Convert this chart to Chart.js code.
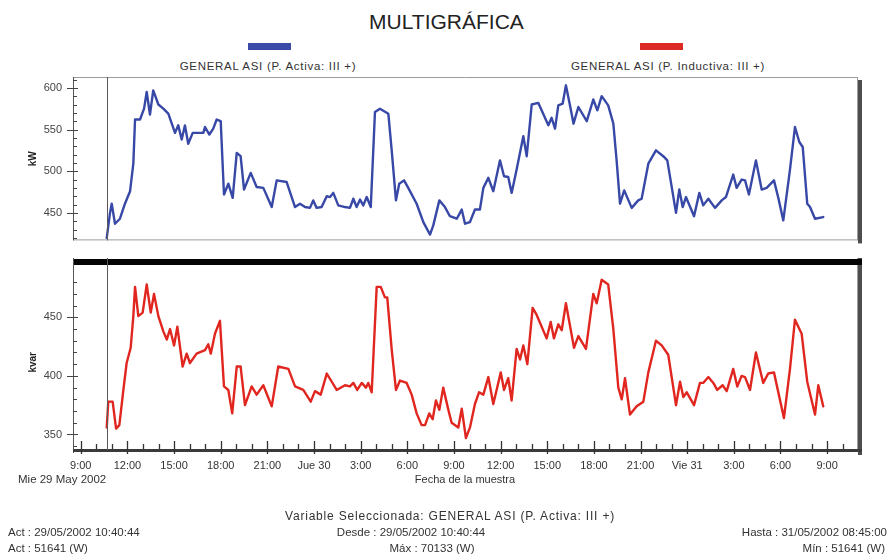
<!DOCTYPE html>
<html>
<head>
<meta charset="utf-8">
<script src="https://cdn.jsdelivr.net/npm/chart.js@4/dist/chart.umd.min.js"></script>
<style>
  html, body { margin: 0; padding: 0; background: #fff; }
  #wrap { position: relative; width: 889px; height: 557px; overflow: hidden; background: #fff; }
  canvas { position: absolute; left: 0; }
  #cA { top: 0; }
  #cB { top: 258px; }
  .txt { position: absolute; font-family: "Liberation Sans", Arial, sans-serif; color: #333; white-space: nowrap; line-height: 1; }
  .sw { position: absolute; height: 7px; width: 43px; }
</style>
</head>
<body>
<div id="wrap">
  <div class="txt" style="left:0;width:893px;top:11px;text-align:center;font-size:21px;color:#222;">MULTIGRÁFICA</div>

  <div class="sw" style="left:248px;top:43px;background:#3b4aa6;"></div>
  <div class="txt" style="left:158px;width:220px;top:61px;text-align:center;font-size:11.5px;letter-spacing:0.7px;">GENERAL ASI (P. Activa: III +)</div>
  <div class="sw" style="left:640px;top:43px;background:#dc2a24;"></div>
  <div class="txt" style="left:553px;width:230px;top:61px;text-align:center;font-size:11.5px;letter-spacing:0.7px;">GENERAL ASI (P. Inductiva: III +)</div>

  <canvas id="cA" width="889" height="258"></canvas>
  <canvas id="cB" width="889" height="299"></canvas>

  <div class="txt" style="left:18px;top:474px;font-size:11.5px;">Mie 29 May 2002</div>

  <div class="txt" style="left:0;width:900px;top:510px;text-align:center;font-size:12px;letter-spacing:0.8px;">Variable Seleccionada: GENERAL ASI (P. Activa: III +)</div>
  <div class="txt" style="left:8px;top:527px;font-size:11.5px;">Act : 29/05/2002 10:40:44</div>
  <div class="txt" style="left:8px;top:543px;font-size:11.5px;">Act : 51641 (W)</div>
  <div class="txt" style="left:311px;width:200px;top:527px;text-align:center;font-size:11.5px;">Desde : 29/05/2002 10:40:44</div>
  <div class="txt" style="left:332px;width:200px;top:543px;text-align:center;font-size:11.5px;">Máx : 70133 (W)</div>
  <div class="txt" style="right:2px;top:527px;text-align:right;font-size:11.5px;">Hasta : 31/05/2002 08:45:00</div>
  <div class="txt" style="right:4px;top:543px;text-align:right;font-size:11.5px;">Mín : 51641 (W)</div>
</div>

<script>
// Horas contadas desde el 29/05/2002 00:00
const activaHoras = [
  10.67, 10.88, 10.99, 11.20, 11.52, 11.84, 12.17, 12.38, 12.49, 12.81, 13.07, 13.24, 13.45, 13.66, 13.99,
  14.31, 14.63, 15.06, 15.27, 15.49, 15.70, 15.91, 16.20, 16.56, 16.88, 16.99, 17.27, 17.52, 17.74, 18.00,
  18.21, 18.49, 18.77, 19.03, 19.28, 19.50, 19.93, 20.31, 20.74, 21.28, 21.60, 22.24, 22.78, 23.10, 23.42,
  23.74, 23.95, 24.17, 24.49, 24.82, 25.03, 25.24, 25.56, 25.99, 26.31, 26.53, 26.74, 26.96, 27.17, 27.39,
  27.65, 27.92, 28.24, 28.78, 29.00, 29.27, 29.48, 29.79, 30.06, 30.60, 31.03, 31.46, 31.67, 32.06, 32.42,
  32.74, 33.18, 33.50, 33.71, 34.03, 34.35, 34.67, 34.89, 35.21, 35.53, 35.96, 36.22, 36.49, 36.71, 37.03,
  37.46, 37.68, 38.00, 38.42, 39.07, 39.28, 39.50, 39.71, 39.99, 40.20, 40.46, 40.69, 41.00, 41.54, 41.96,
  42.22, 42.50, 42.92, 43.25, 43.46, 43.68, 43.95, 44.43, 44.85, 45.07, 45.50, 45.99, 46.46, 46.72, 47.28,
  47.49, 47.71, 47.92, 48.44, 48.78, 49.03, 49.36, 49.79, 50.22, 50.49, 50.96, 51.18, 51.50, 51.72, 51.97,
  52.42, 52.79, 53.11, 53.58, 53.86, 54.18, 54.61, 54.93, 55.21, 55.43, 55.72, 55.90, 56.22, 56.75
];
// P. Activa (kW)
const activaKW = [
  420, 450, 461, 437, 443, 461, 476, 509, 562, 562, 575, 595, 568, 597, 580,
  575, 569, 546, 555, 538, 555, 533, 546, 546, 546, 553, 544, 551, 562, 560,
  472, 485, 468, 522, 518, 478, 498, 481, 480, 457, 489, 487, 457, 461, 457,
  456, 465, 456, 457, 470, 469, 474, 459, 457, 456, 467, 457, 466, 459, 469,
  457, 571, 575, 569, 524, 465, 485, 489, 480, 461, 439, 424, 435, 465, 457,
  446, 443, 454, 437, 439, 454, 454, 480, 492, 476, 513, 494, 493, 474, 502,
  542, 518, 580, 582, 555, 564, 551, 579, 581, 603, 579, 557, 577, 560, 586,
  573, 590, 579, 557, 513, 461, 477, 456, 465, 467, 509, 525, 518, 513, 450,
  478, 457, 469, 446, 474, 459, 467, 456, 465, 469, 496, 480, 490, 489, 472,
  513, 478, 480, 489, 468, 441, 502, 553, 535, 529, 461, 457, 443, 445
];

const inductivaHoras = [
  10.67, 10.77, 11.05, 11.27, 11.48, 11.73, 11.95, 12.21, 12.38, 12.49, 12.70, 12.98, 13.24, 13.50, 13.71,
  13.99, 14.31, 14.53, 14.74, 15.00, 15.21, 15.55, 15.81, 16.02, 16.45, 16.99, 17.20, 17.36, 17.63, 17.95,
  18.21, 18.49, 18.74, 19.03, 19.28, 19.56, 19.99, 20.31, 20.74, 21.28, 21.70, 22.35, 22.78, 23.31, 23.79,
  24.06, 24.43, 24.82, 25.14, 25.46, 25.99, 26.31, 26.53, 26.78, 27.07, 27.34, 27.49, 27.71, 28.03, 28.29,
  28.56, 28.71, 29.00, 29.27, 29.53, 29.96, 30.28, 30.60, 30.92, 31.14, 31.41, 31.63, 31.84, 32.06, 32.31,
  32.64, 32.85, 33.28, 33.50, 33.77, 34.03, 34.35, 34.61, 34.89, 35.21, 35.53, 36.01, 36.22, 36.49, 36.71,
  37.03, 37.25, 37.46, 37.72, 38.06, 38.32, 38.96, 39.22, 39.43, 39.71, 39.93, 40.20, 40.46, 40.72, 41.00,
  41.49, 41.96, 42.18, 42.50, 42.92, 43.25, 43.57, 43.79, 44.00, 44.32, 44.75, 45.18, 45.50, 45.99, 46.36,
  46.78, 47.28, 47.54, 47.75, 47.97, 48.44, 48.82, 49.03, 49.36, 49.68, 49.93, 50.28, 50.54, 50.96, 51.22,
  51.50, 51.72, 52.04, 52.42, 52.89, 53.21, 53.58, 54.22, 54.61, 54.93, 55.36, 55.72, 56.22, 56.43, 56.75
];
// P. Inductiva (kvar)
const inductivaKvar = [
  356, 378, 378, 355, 358, 387, 411, 424, 451, 476, 451, 454, 478, 454, 470,
  451, 438, 431, 440, 426, 442, 408, 419, 411, 419, 422, 427, 419, 436, 447,
  391, 388, 368, 408, 408, 375, 391, 384, 392, 374, 408, 406, 391, 388, 378,
  387, 384, 402, 395, 388, 392, 391, 394, 388, 394, 390, 394, 386, 476, 476,
  467, 467, 422, 388, 396, 394, 384, 368, 358, 358, 368, 363, 379, 371, 390,
  371, 360, 356, 372, 347, 356, 376, 386, 384, 399, 376, 403, 388, 398, 379,
  423, 414, 426, 410, 458, 452, 432, 446, 432, 444, 439, 462, 443, 424, 434,
  423, 470, 462, 482, 478, 440, 390, 380, 398, 367, 374, 378, 403, 430, 426,
  418, 375, 395, 382, 386, 375, 394, 394, 399, 394, 388, 392, 387, 406, 391,
  400, 399, 388, 420, 394, 402, 403, 364, 406, 448, 436, 395, 367, 392, 374
];

// Etiquetas de los ejes
const ticksActiva = [450, 500, 550, 600];
const ticksInductiva = [350, 400, 450];
const ejeHoras = [9, 12, 15, 18, 21, 24, 27, 30, 33, 36, 39, 42, 45, 48, 51, 54, 57];
const ejeEtiquetas = ['9:00', '12:00', '15:00', '18:00', '21:00', 'Jue 30', '3:00', '6:00', '9:00',
                      '12:00', '15:00', '18:00', '21:00', 'Vie 31', '3:00', '6:00', '9:00'];
const ejeMin = 8.5, ejeMax = 58.92;
const inicioMuestra = 10.67;

const FUENTE = '"Liberation Sans", Arial, sans-serif';

const puntos = (hs, vs) => hs.map((h, i) => ({ x: h, y: vs[i] }));

// Marco, ticks menores, cursor y separador de paneles
const marcoPanel = {
  id: 'marcoPanel',
  afterDraw(chart, args, o) {
    const { ctx, chartArea: a } = chart;
    const sy = chart.scales.y, sx = chart.scales.x;
    ctx.save();
    // sombra derecha
    ctx.fillStyle = '#4d4d4d';
    ctx.fillRect(a.right + 1, o.inferior ? 0 : a.top + 3, 4, (o.inferior ? a.bottom + 6 : a.bottom - a.top));
    // bordes grises
    ctx.strokeStyle = '#9c9c9c';
    ctx.lineWidth = 1;
    ctx.beginPath();
    if (!o.inferior) {
      ctx.moveTo(a.left, a.top + 0.5); ctx.lineTo(a.right + 1, a.top + 0.5);
      ctx.moveTo(a.left, a.bottom - 0.5); ctx.lineTo(a.right + 1, a.bottom - 0.5);
    }
    ctx.moveTo(a.right + 0.5, o.inferior ? 0 : a.top); ctx.lineTo(a.right + 0.5, a.bottom);
    ctx.stroke();
    // separador negro
    if (o.inferior) {
      ctx.fillStyle = '#050505';
      ctx.fillRect(a.left, 1, a.right - a.left + 5, 6);
    }
    // eje vertical
    ctx.strokeStyle = '#555';
    ctx.beginPath();
    ctx.moveTo(a.left + 0.5, o.inferior ? 0 : a.top); ctx.lineTo(a.left + 0.5, a.bottom + (o.inferior ? 4 : 0));
    ctx.stroke();
    // ticks del eje Y
    ctx.strokeStyle = '#444';
    ctx.lineWidth = 1.2;
    ctx.beginPath();
    for (let v = Math.ceil(sy.min / 10) * 10; v <= sy.max; v += 10) {
      const py = Math.round(sy.getPixelForValue(v)) + 0.5;
      if (v % 50 === 0) { ctx.moveTo(a.left - 6, py); ctx.lineTo(a.left + 5, py); }
      else { ctx.moveTo(a.left, py); ctx.lineTo(a.left + 4, py); }
    }
    ctx.stroke();
    // eje X del panel inferior
    if (o.inferior) {
      ctx.fillStyle = '#3a3a3a';
      ctx.fillRect(a.left, a.bottom, a.right - a.left + 5, 3);
      ctx.strokeStyle = '#333';
      ctx.lineWidth = 1.3;
      ctx.beginPath();
      for (let h = Math.ceil(sx.min); h <= sx.max; h++) {
        const px = Math.round(sx.getPixelForValue(h)) + 0.5;
        if (h % 3 === 0) { ctx.moveTo(px, a.bottom - 8); ctx.lineTo(px, a.bottom + 5); }
        else { ctx.moveTo(px, a.bottom - 5); ctx.lineTo(px, a.bottom); }
      }
      ctx.stroke();
    }
    // cursor de la muestra
    const cx = Math.round(sx.getPixelForValue(inicioMuestra)) + 0.5;
    ctx.strokeStyle = '#5a5a5a';
    ctx.lineWidth = 1;
    ctx.beginPath();
    ctx.moveTo(cx, o.inferior ? 0 : a.top); ctx.lineTo(cx, a.bottom + (o.inferior ? 1 : 0));
    ctx.stroke();
    ctx.restore();
  }
};

const ejeY = (min, max, valores, titulo) => ({
  type: 'linear',
  min, max,
  afterFit: s => { s.width = 50; },
  afterBuildTicks: s => { s.ticks = valores.map(v => ({ value: v })); },
  grid: { display: false, drawTicks: false },
  border: { display: false },
  ticks: { padding: 11, color: '#444', font: { family: FUENTE, size: 11 } },
  title: { display: true, text: titulo, color: '#222', font: { family: FUENTE, size: 10, weight: 'bold' }, padding: { top: 4, bottom: 4 } }
});

const comunes = {
  responsive: false,
  animation: false,
  events: [],
  plugins: { legend: { display: false }, tooltip: { enabled: false }, title: { display: false } },
  elements: { point: { radius: 0 }, line: { tension: 0, borderWidth: 2.4, borderJoinStyle: 'round', borderCapStyle: 'round' } }
};

// Panel superior: P. Activa
new Chart(document.getElementById('cA'), {
  type: 'line',
  data: { datasets: [{ label: 'GENERAL ASI (P. Activa: III +)', data: puntos(activaHoras, activaKW), borderColor: '#3848a6' }] },
  options: {
    ...comunes,
    layout: { padding: { left: 23, right: 32, top: 77, bottom: 3 } },
    scales: {
      x: { type: 'linear', min: ejeMin, max: ejeMax, display: false },
      y: ejeY(417, 613, ticksActiva, 'kW')
    },
    plugins: { ...comunes.plugins, marcoPanel: { inferior: false } }
  },
  plugins: [marcoPanel]
});

// Panel inferior: P. Inductiva
new Chart(document.getElementById('cB'), {
  type: 'line',
  data: { datasets: [{ label: 'GENERAL ASI (P. Inductiva: III +)', data: puntos(inductivaHoras, inductivaKvar), borderColor: '#e0261f' }] },
  options: {
    ...comunes,
    layout: { padding: { left: 23, right: 32, top: 7, bottom: 68 } },
    scales: {
      x: {
        type: 'linear', min: ejeMin, max: ejeMax,
        afterFit: s => { s.height = 40; },
        afterBuildTicks: s => { s.ticks = ejeHoras.map(v => ({ value: v })); },
        grid: { display: false, drawTicks: false },
        border: { display: false },
        ticks: {
          autoSkip: false, maxRotation: 0, padding: 10,
          color: '#333', font: { family: FUENTE, size: 11 },
          callback: (v, i) => ejeEtiquetas[i]
        },
        title: { display: true, text: 'Fecha de la muestra', color: '#333', font: { family: FUENTE, size: 11 }, padding: { top: 4, bottom: 2 } }
      },
      y: ejeY(337.6, 485.6, ticksInductiva, 'kvar')
    },
    plugins: { ...comunes.plugins, marcoPanel: { inferior: true } }
  },
  plugins: [marcoPanel]
});
</script>
</body>
</html>
